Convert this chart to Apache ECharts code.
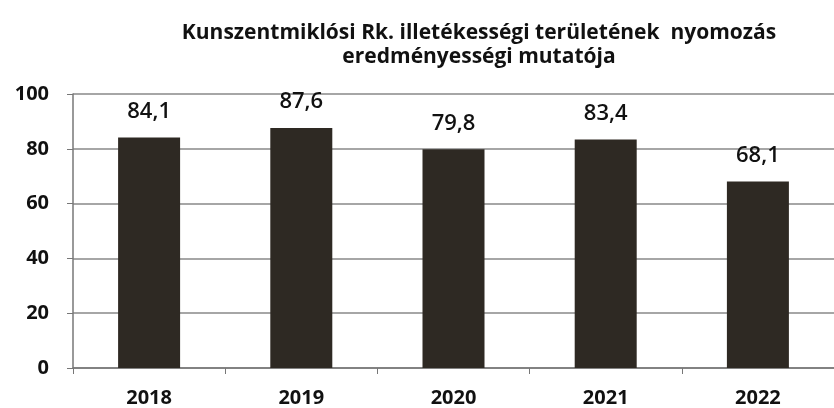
<!DOCTYPE html>
<html>
<head>
<meta charset="utf-8">
<script src="https://cdn.jsdelivr.net/npm/echarts@6/dist/echarts.min.js"></script>
<style>
  html, body { margin: 0; padding: 0; background: #fff; }
  #chart { width: 834px; height: 408px; }
</style>
</head>
<body>
<div id="chart"></div>
<script>
// adatok
const years = ['2018', '2019', '2020', '2021', '2022'];
const values = [84.1, 87.6, 79.8, 83.4, 68.1];
const yTicks = [0, 20, 40, 60, 80, 100];

const chart = echarts.init(document.getElementById('chart'));

const option = {
  backgroundColor: '#fff',
  animation: false,
  title: {
    text: 'Kunszentmiklósi Rk. illetékességi területének  nyomozás\neredményességi mutatója',
    left: 474,
    top: 16,
    textAlign: 'center',
    textStyle: {
      fontFamily: 'Open Sans',
      fontWeight: 'bold',
      fontSize: 21,
      lineHeight: 24,
      color: '#111'
    }
  },
  // a rajzterület jobbra kilóg a képből, mint az eredetin
  grid: {
    left: 73,
    width: 770,
    top: 94,
    bottom: 40
  },
  xAxis: {
    type: 'category',
    data: years,
    axisLine: { lineStyle: { color: '#777', width: 1.5 } },
    axisTick: { show: true, length: 6, lineStyle: { color: '#777' } },
    axisLabel: {
      color: '#111',
      fontFamily: 'Open Sans',
      fontWeight: 'bold',
      fontSize: 20,
      margin: 20
    }
  },
  yAxis: {
    type: 'value',
    min: yTicks[0],
    max: yTicks[yTicks.length - 1],
    interval: 20,
    axisLine: { show: true, lineStyle: { color: '#777', width: 1.5 } },
    axisTick: { show: true, length: 6, lineStyle: { color: '#777' } },
    splitLine: { lineStyle: { color: '#888', width: 1.6 } },
    axisLabel: {
      color: '#111',
      fontFamily: 'Open Sans',
      fontWeight: 'bold',
      fontSize: 20,
      margin: 24
    }
  },
  series: [{
    type: 'bar',
    data: values,
    barWidth: 62,
    itemStyle: { color: '#2e2923' },
    label: {
      show: true,
      position: 'top',
      distance: 15,
      formatter: p => String(p.value).replace('.', ','),
      color: '#111',
      fontFamily: 'Open Sans',
      fontWeight: 600,
      fontSize: 22
    }
  }]
};

chart.setOption(option);
</script>
</body>
</html>
